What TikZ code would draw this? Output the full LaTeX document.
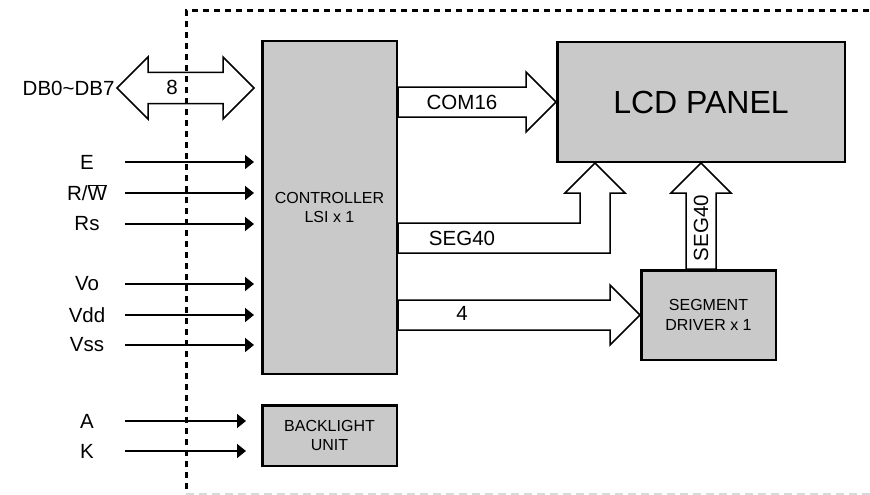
\documentclass[tikz,border=0pt]{standalone}
\usepackage{fontspec}
\setmainfont{Liberation Sans}
\usetikzlibrary{arrows.meta,positioning,calc}

\begin{document}
\begin{tikzpicture}[x=1pt, y=-1pt,
    blk/.style={draw, line width=2.5pt, fill=black!21, inner sep=0pt, align=center, font=\fontsize{16}{19.5}\selectfont},
    bus/.style={draw, line width=1.5pt, fill=white, line join=miter},
    sig/.style={line width=1.8pt, -{Triangle[length=9pt,width=14pt]}},
    pin/.style={font=\fontsize{20.5}{23}\selectfont}]

    \useasboundingbox (0,0) rectangle (870,495);

    % blocks
    \node[blk, minimum width=134.5pt, minimum height=332.5pt] (ctrl) at (329.5,207.5) {CONTROLLER\\LSI x 1};
    \node[blk, minimum width=287.5pt, minimum height=119.5pt, font=\fontsize{32}{36}\selectfont] (lcd) at (701,102) {LCD PANEL};
    \node[blk, minimum width=134.5pt, minimum height=89.5pt] (seg) at (708.5,315) {SEGMENT\\DRIVER x 1};
    \node[blk, minimum width=134.5pt, minimum height=60.5pt] (back) at (329.5,435.5) {BACKLIGHT\\UNIT};

    % data bus
    \coordinate (dbL) at (117,88);
    \coordinate (dbR) at ($(ctrl.west |- dbL)+(-7,0)$);
    \draw[bus] (dbL) -- ++(31,-31) -- ++(0,15.5) -- ($(dbR)+(-31,-15.5)$) -- ++(0,-15.5) -- (dbR)
        -- ++(-31,31) -- ++(0,-15.5) -- ($(dbL)+(31,15.5)$) -- ++(0,15.5) -- cycle;
    \node[pin, left=-1pt of dbL] (db) {DB0\textasciitilde DB7};
    \node[pin] (dbw) at (172,87) {8};

    % input pins
    \foreach \y/\nm/\lbl in {162/e/E, 193/rw/{R/$\overline{\mbox{W}}$}, 224/rs/Rs, 284/vo/Vo, 315/vdd/Vdd, 345/vss/Vss} {
        \node[pin] (\nm) at (87,\y) {\lbl};
        \coordinate (\nm-s) at (125,\y);
        \draw[sig, shorten >=7pt] (\nm-s) -- (ctrl.west |- \nm-s);
    }
    \foreach \y/\nm/\lbl in {421/a/A, 451/k/K} {
        \node[pin] (\nm) at (87,\y) {\lbl};
        \coordinate (\nm-s) at (125,\y);
        \draw[sig, shorten >=15pt] (\nm-s) -- (back.west |- \nm-s);
    }

    % COM16
    \draw[bus] ($(ctrl.east |- lcd.west)+(0,-15)$) -- ($(lcd.west)+(-30,-15)$) -- ++(0,-15) -- (lcd.west)
        -- ++(-30,30) -- ++(0,-15) -- ($(ctrl.east |- lcd.west)+(0,15)$) -- cycle;
    \node[pin] (com) at (462,102) {COM16};

    % SEG40 from controller
    \coordinate (t) at ($(lcd.south)+(-106,0)$);
    \coordinate (bend) at ($(t)+(0,75)$);
    \draw[bus] (t) -- ++(30,30) -- ++(-15,0) -- ($(bend)+(15,15)$) -- ($(ctrl.east |- bend)+(0,15)$)
        -- ($(ctrl.east |- bend)+(0,-15)$) -- ($(bend)+(-15,-15)$) -- ($(t)+(-15,30)$) -- ++(-15,0) -- cycle;
    \node[pin] (sega) at (462,238) {SEG40};

    % SEG40 from segment driver
    \draw[bus] (lcd.south) -- ++(30,30) -- ++(-15,0) -- ($(lcd.south |- seg.north)+(15,0)$)
        -- ($(lcd.south |- seg.north)+(-15,0)$) -- ($(lcd.south)+(-15,30)$) -- ++(-15,0) -- cycle;
    \node[pin, rotate=90] (segb) at (701,228) {SEG40};

    % 4 lines to segment driver
    \draw[bus] ($(ctrl.east |- seg.west)+(0,-15)$) -- ($(seg.west)+(-30,-15)$) -- ++(0,-15) -- (seg.west)
        -- ++(-30,30) -- ++(0,-15) -- ($(ctrl.east |- seg.west)+(0,15)$) -- cycle;
    \node[pin] (four) at (462,313) {4};

    % module outline
    \draw[line width=3pt, dash pattern=on 6pt off 5pt] (186,489) -- (186,11) -- (870,11);
    \draw[black!15, line width=1.5pt, dash pattern=on 8pt off 5pt] (186,494) -- (870,494);
\end{tikzpicture}
\end{document}
